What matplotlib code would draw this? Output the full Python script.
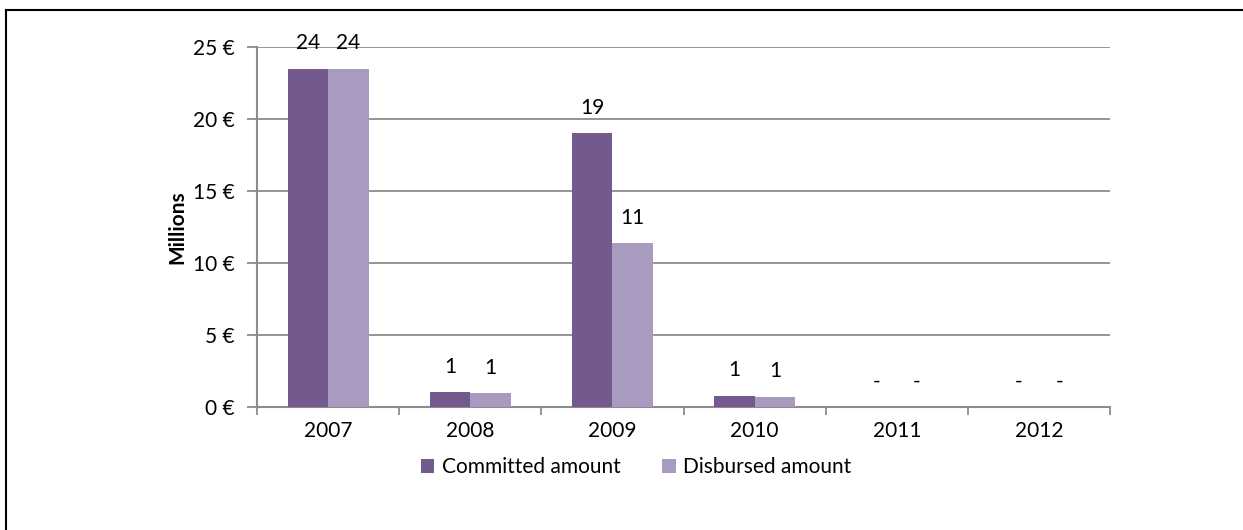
import matplotlib
matplotlib.use("Agg")
import matplotlib.pyplot as plt
from matplotlib.lines import Line2D
import numpy as np

plt.rcParams['font.family'] = ['Lato', 'DejaVu Sans']

years = ["2007", "2008", "2009", "2010", "2011", "2012"]
committed = [23.5, 1.05, 19.0, 0.78, 0.0, 0.0]
disbursed = [23.5, 0.95, 11.4, 0.72, 0.0, 0.0]
series_names = ["Committed amount", "Disbursed amount"]
y_ticks = [0, 5, 10, 15, 20, 25]

c_committed = "#72598E"
c_disbursed = "#A99BC0"
grid_grey = "#8C8C8C"
FS = 15

fig = plt.figure(figsize=(12.43, 5.30), dpi=100)
ax = fig.add_axes([257 / 1243, 1 - 407 / 530, (1110 - 257) / 1243, (407 - 47) / 530])

x = np.arange(len(years))
w = 0.285
b1 = ax.bar(x - w / 2, committed, w, color=c_committed, label=series_names[0], zorder=3)
b2 = ax.bar(x + w / 2, disbursed, w, color=c_disbursed, label=series_names[1], zorder=3)


def fmt(v):
    return "-" if v == 0 else f"{v:.0f}"


for bars, vals in ((b1, committed), (b2, disbursed)):
    for rect, v in zip(bars, vals):
        ax.annotate(fmt(v), (rect.get_x() + rect.get_width() / 2, v),
                    xytext=(0, 11), textcoords="offset points",
                    ha="center", va="bottom", fontsize=FS, color="black")

ax.set_xlim(-0.5, len(years) - 0.5)
ax.set_ylim(0, 25)
ax.set_yticks(y_ticks)
ax.set_yticklabels([f"{t} €" for t in y_ticks], fontsize=FS)
ax.yaxis.grid(True, color=grid_grey, linewidth=1.3, zorder=0)
ax.set_axisbelow(True)

ax.set_xticks(x)
ax.set_xticklabels(years, fontsize=FS)
ax.tick_params(axis="x", length=0, pad=10)
ax.set_xticks(np.arange(-0.5, len(years)), minor=True)
ax.tick_params(axis="x", which="minor", length=6, width=1.3, color=grid_grey)
ax.tick_params(axis="y", length=7, width=1.3, color=grid_grey, pad=9)

for s in ("top", "right"):
    ax.spines[s].set_visible(False)
for s in ("left", "bottom"):
    ax.spines[s].set_color(grid_grey)
    ax.spines[s].set_linewidth(1.5)

ax.set_ylabel("Millions", fontsize=FS, fontweight="bold", labelpad=4)

ax.legend(loc="center", bbox_to_anchor=(636 / 1243, 1 - 467 / 530),
          bbox_transform=fig.transFigure, ncol=2, frameon=False,
          fontsize=FS, handlelength=0.65, handleheight=0.65,
          handletextpad=0.35, columnspacing=2.0)

# outer chart frame (top and left edges)
fig.add_artist(Line2D([6 / 1243, 1.0], [1 - 10 / 530, 1 - 10 / 530],
                      transform=fig.transFigure, color="black", linewidth=1.5))
fig.add_artist(Line2D([6 / 1243, 6 / 1243], [0.0, 1 - 10 / 530],
                      transform=fig.transFigure, color="black", linewidth=1.5))

fig.savefig("out.png", dpi=100, facecolor="white")
